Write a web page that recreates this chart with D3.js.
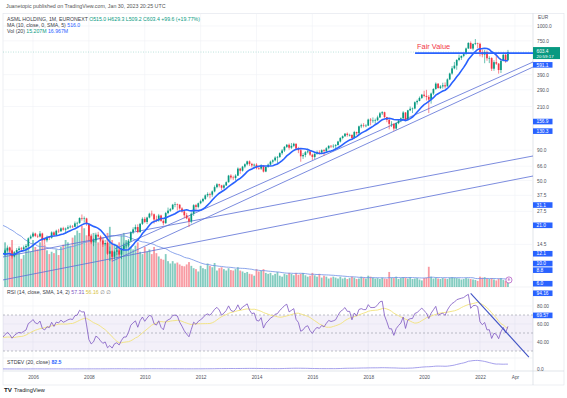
<!DOCTYPE html>
<html><head><meta charset="utf-8">
<script src="https://cdn.jsdelivr.net/npm/d3@7/dist/d3.min.js"></script>
<style>
html,body{margin:0;padding:0;background:#fff;}
svg{display:block;}
text{font-family:"Liberation Sans","DejaVu Sans",Arial,sans-serif;}
</style></head><body>
<svg id="chart" width="567" height="398"></svg>
<script>
// ================= DATA (monthly, EUR) =================
const dataStartYear = 2002;   // closes & volumes start Jan 2002
const candleStartYear = 2005; // opens/highs/lows start Jan 2005

const closes = [
 19.5,19.0,22.0,19.8,15.0,10.5,8.5,7.5,5.8,8.0,10.5,8.0,            // 2002
 6.9,6.5,6.1,7.5,8.3,8.4,10.6,12.3,11.5,13.5,14.2,14.1,             // 2003
 14.6,14.3,14.8,12.2,12.8,14.0,11.6,10.3,10.4,11.1,12.5,11.9,       // 2004
 12.9,13.6,12.9,11.5,12.4,13.0,13.4,13.2,13.7,14.1,16.3,16.9,       // 2005
 17.9,17.1,16.9,17.9,16.1,15.7,16.7,16.5,18.3,17.3,18.9,18.7,       // 2006
 19.8,19.3,19.7,20.2,20.5,20.4,21.8,22.0,24.2,23.9,24.0,21.5,       // 2007
 17.0,15.1,15.7,17.5,16.9,15.6,14.5,14.9,12.1,12.7,11.4,12.6,       // 2008
 12.9,11.9,13.2,14.2,14.2,15.6,18.3,19.4,20.3,18.4,21.6,23.8,       // 2009
 22.4,24.4,26.3,26.0,23.5,23.0,25.4,22.9,21.9,26.6,27.9,28.7,       // 2010
 31.3,31.6,31.3,29.1,27.5,25.5,24.0,22.6,26.3,31.0,30.0,32.2,       // 2011
 33.5,35.0,37.5,38.5,38.0,40.5,44.0,46.5,45.5,43.5,45.5,48.4,       // 2012
 55.0,53.0,52.5,55.0,63.0,60.5,65.5,68.5,72.5,69.0,67.0,68.0,       // 2013
 63.5,63.0,67.0,59.5,65.0,68.0,72.0,74.0,78.0,79.0,85.0,89.5,       // 2014
 96.0,100.0,94.5,98.0,102.0,93.0,90.0,80.0,82.0,86.5,88.0,82.5,     // 2015
 79.0,84.0,87.0,86.0,90.0,88.5,93.5,98.0,97.0,98.0,99.5,106.5,      // 2016
 114,118,124,121,121,114,128,125,143,146,145,145,                   // 2017
 163,160,160,161,170,184,188,171,162,150,150,137,                   // 2018
 152,160,167,187,162,195,201,202,228,234,248,264,                   // 2019
 258,253,240,270,295,327,300,310,317,310,355,398,                   // 2020
 440,464,518,540,560,580,647,720,645,706,716,708,                   // 2021
 601,575,605,535,537,437,496,482,426,509,572,503.8,                 // 2022
 603.4                                                              // 2023
];
const opens = [
 11.9,12.9,13.6,12.9,11.5,12.4,13.0,13.4,13.2,13.7,14.1,16.3,
 16.9,17.9,17.1,16.9,17.9,16.1,15.7,16.7,16.5,18.3,17.3,18.9,
 18.7,19.8,19.3,19.7,20.2,20.5,20.4,21.8,22.0,24.2,23.9,24.0,
 21.5,17.0,15.1,15.7,17.5,16.9,15.6,14.5,14.9,12.1,12.7,11.4,
 12.6,12.9,11.9,13.2,14.2,14.2,15.6,18.3,19.4,20.3,18.4,21.6,
 23.8,22.4,24.4,26.3,26.0,23.5,23.0,25.4,22.9,21.9,26.6,27.9,
 28.7,31.3,31.6,31.3,29.1,27.5,25.5,24.0,22.6,26.3,31.0,30.0,
 32.2,33.5,35.0,37.5,38.5,38.0,40.5,44.0,46.5,45.5,43.5,45.5,
 48.4,55.0,53.0,52.5,55.0,63.0,60.5,65.5,68.5,72.5,69.0,67.0,
 68.0,63.5,63.0,67.0,59.5,65.0,68.0,72.0,74.0,78.0,79.0,85.0,
 89.5,96.0,100.0,94.5,98.0,102.0,93.0,90.0,80.0,82.0,86.5,88.0,
 82.5,79.0,84.0,87.0,86.0,90.0,88.5,93.5,98.0,97.0,98.0,99.5,
 106.5,114,118,124,121,121,114,128,125,143,146,145,
 145,163,160,160,161,170,184,188,171,162,150,150,
 137,152,160,167,187,162,195,201,202,228,234,248,
 264,258,253,240,270,295,327,300,310,317,310,355,
 398,440,464,518,540,560,580,647,720,645,706,716,
 708,601,575,605,535,537,437,496,482,426,509,572,
 515.0
];
const highs = [
 13.4,14.2,13.9,13.1,12.7,13.5,14.0,13.8,14.2,14.6,16.6,17.5,
 18.5,18.2,17.6,18.8,18.2,16.5,17.2,17.0,18.7,18.7,19.3,19.6,
 20.2,20.4,20.1,21.0,21.2,21.1,22.6,22.5,24.5,25.9,24.9,24.3,
 21.8,17.8,16.3,18.2,18.5,17.3,15.8,15.8,15.2,13.9,12.9,12.9,
 13.9,13.3,13.6,15.0,15.3,16.1,18.7,20.2,21.3,21.4,22.0,24.5,
 24.7,24.8,26.8,27.9,26.4,25.3,26.2,25.8,23.5,27.2,29.6,29.4,
 31.8,33.0,32.0,31.6,29.8,27.9,26.7,24.8,27.0,31.6,31.8,32.6,
 34.5,35.8,38.2,39.8,39.5,41.2,45.5,47.5,47.0,46.0,46.5,49.2,
 55.8,56.5,55.0,56.5,64.5,64.0,66.5,69.8,73.5,73.8,70.5,69.5,
 70.0,66.5,68.5,67.5,65.8,69.5,73.5,75.5,80.0,80.5,86.5,92.0,
 97.5,101.5,102.5,103.5,104.0,102.5,96.0,92.0,85.0,88.5,93.0,90.0,
 84.0,85.0,89.5,90.0,91.5,92.0,95.5,99.0,99.5,101.0,101.5,108.0,
 116,120,125.5,127,124,122.5,131,129,145,150.5,152,149,
 166,168,170,166,176,189,192,190,172,165,158,152,
 155,164,170,192,188,197,210,206,232,240,255,268,
 285,290,262,275,299,335,330,318,333,335,362,405,
 460,498,525,575,565,590,658,730,742,714,777,724,
 724,636,628,622,556,546,515,570,488,514,595,590,
 629.3
];
const lows = [
 11.6,12.6,12.5,11.0,11.3,12.2,12.7,12.6,12.8,13.0,13.9,16.0,
 16.6,16.7,16.4,16.6,15.6,14.5,15.1,15.8,16.2,16.9,17.1,18.1,
 18.5,18.9,17.9,19.4,19.8,19.9,20.3,20.0,21.6,23.0,22.1,20.8,
 15.6,14.6,14.0,15.0,16.5,15.3,13.8,14.2,11.8,10.5,10.6,10.9,
 11.8,11.4,10.9,12.8,13.6,13.8,15.1,17.7,18.8,18.0,18.2,21.1,
 21.9,21.5,24.0,25.0,21.7,22.3,22.5,22.5,21.0,21.6,26.0,27.3,
 28.3,29.8,28.0,28.4,26.8,24.1,23.6,20.3,21.8,25.2,27.6,29.2,
 31.6,32.8,34.3,36.2,35.4,36.5,39.8,43.0,43.8,41.5,42.5,45.0,
 48.0,51.0,50.5,50.0,54.5,57.0,59.5,63.5,67.0,66.5,64.5,63.0,
 62.0,61.5,61.5,58.5,58.8,64.0,67.0,69.5,72.5,70.0,77.5,82.5,
 87.0,94.0,91.0,92.0,95.5,91.0,85.0,72.0,76.0,78.5,84.5,80.5,
 74.5,76.0,82.5,83.0,84.5,81.0,86.5,91.5,94.0,93.5,92.0,98.5,
 104.5,111,116.5,117,117.5,110,112.5,121,124,138,140,140.5,
 144,146,153,150,158,168,178,168,155,135,141,131,
 134,149,155,165,159,160,192,185,199,218,232,243,
 251,236,185,222,262,290,298,295,297,298,310,350,
 389,432,428,505,518,546,575,640,642,623,690,652,
 555,545,486,510,487,418,420,470,397,402,503,490,
 509.2
];
const volumes = [ // millions of shares per month
 190,180,200,185,210,230,220,200,210,230,200,180,   // 2002
 170,160,180,150,140,130,150,150,140,150,130,115,   // 2003
 170,150,140,160,120,110,140,120,100,110,105,95,    // 2004
 95,80,85,100,75,70,72,60,68,82,90,75,              // 2005
 100,85,80,95,105,90,78,70,75,72,80,68,             // 2006
 85,90,100,95,88,105,110,120,115,130,125,110,       // 2007
 132,110,115,100,95,98,105,90,115,128,100,92,       // 2008
 90,95,110,115,100,92,85,80,88,95,75,70,            // 2009
 85,75,80,70,85,72,65,60,58,70,55,50,               // 2010
 55,50,52,48,45,44,48,53,45,40,38,33,               // 2011
 45,40,38,50,45,42,51,35,40,42,38,35,               // 2012
 40,36,35,38,42,35,33,30,32,28,27,24,               // 2013
 38,33,35,38,30,28,30,25,28,32,24,22,               // 2014
 28,26,30,28,25,30,26,28,30,25,22,24,               // 2015
 30,25,22,28,20,24,22,18,20,22,20,18,               // 2016
 22,18,20,17,19,22,20,17,18,22,20,18,               // 2017
 24,22,20,18,19,17,20,18,17,32,20,19,               // 2018
 22,17,19,21,20,18,21,17,18,19,16,14,               // 2019
 19,20,43,22,18,20,18,17,19,18,17,20,               // 2020
 21,20,19,18,16,17,19,18,17,16,15,13,               // 2021
 22,20,21,18,17,19,16,14,18,19,15,13,               // 2022
 15.2                                               // 2023
];
// month offsets below are counted from Jan 2005
const timeLabels = ["2006","2008","2010","2012","2014","2016","2018","2020","2022","Apr"];
const timeLabelMonths = [12,36,60,84,108,132,156,180,204,219];
const priceTicks = [1000,750,390,290,210,90,66,50,37.5,27.5,14.5];
const rsiTicks = [80,60,40];
const stdTicks = [0];
const priceMarks = [591.1,156.9,130.3,31.1,21.0,12.1,10.0,8.8,6.0];
const rsiMarks = [94.16,69.57];
const lastPrice = 603.4;
const fairValue = 591.1;
const fairValueFrom = 176.1;
// trend lines: [month0, price0, month1, price1]
const trendLines = [
 [47.2,13.3,226.8,497.7],
 [45.9,10.44,226.8,451.8],
 [-2,11.26,226.8,80.5],
 [-2,7.21,226.8,54.6]
];
const rsiTrend = [200,94.16,225,23.3];
const eventMonth = 216;

// ================= LAYOUT =================
const plotL=3, plotR=533, frameR=564, frameT=13.5, mainB=287, rsiB=358, stdB=371, axisB=385;
const svg = d3.select("#chart");
const off = (candleStartYear - dataStartYear)*12;
const N = closes.length;

const x = d3.scaleLinear().domain([12,204]).range([33,480]);
const y = d3.scaleLog().domain([14.5,1000]).range([244.4,26]);
const yVol = d3.scaleLinear().domain([0,200]).range([mainB, mainB-94]);
const yRsi = d3.scaleLinear().domain([30,70]).range([351,315]);
const yStd = d3.scaleLinear().domain([0,200]).range([369,358]);

// ================= INDICATORS =================
function sma(a,n){return a.map((_,i)=>{if(i<n-1)return null;const s=a.slice(i-n+1,i+1);if(s.some(v=>v==null))return null;return d3.mean(s);});}
const ma10 = sma(closes,10);
const volMa = sma(volumes,20);
const rsi = new Array(N).fill(null);
{let ag=0,al=0;for(let i=1;i<N;i++){const ch=closes[i]-closes[i-1];const g=Math.max(ch,0),l=Math.max(-ch,0);
 if(i<=14){ag+=g/14;al+=l/14;if(i===14)rsi[i]=100-100/(1+ag/al);}else{ag=(ag*13+g)/14;al=(al*13+l)/14;rsi[i]=al===0?100:100-100/(1+ag/al);}}}
const rsiMa = sma(rsi,14);
const stdev = closes.map((_,i)=>{if(i<19)return null;const s=closes.slice(i-19,i+1);const m=d3.mean(s);return Math.sqrt(d3.mean(s.map(v=>(v-m)*(v-m))));});

// ================= DEFS / CLIPS =================
const defs = svg.append("defs");
[["cMain",frameT,mainB],["cRsi",mainB,rsiB],["cStd",rsiB,stdB]].forEach(([id,t,b])=>{
 defs.append("clipPath").attr("id",id).append("rect").attr("x",plotL).attr("y",t).attr("width",plotR-plotL).attr("height",b-t);});

// frame
svg.append("rect").attr("x",plotL).attr("y",frameT).attr("width",frameR-plotL).attr("height",axisB-frameT)
 .attr("fill","none").attr("stroke","#e0e3eb").attr("stroke-width",0.6);
svg.append("line").attr("x1",plotR).attr("x2",plotR).attr("y1",frameT).attr("y2",axisB).attr("stroke","#cfd3dc").attr("stroke-width",0.6);
svg.append("line").attr("x1",plotL).attr("x2",frameR).attr("y1",stdB).attr("y2",stdB).attr("stroke","#cfd3dc").attr("stroke-width",0.6);
[mainB,rsiB].forEach(yy=>svg.append("line").attr("x1",plotL).attr("x2",plotR).attr("y1",yy).attr("y2",yy).attr("stroke","#e9ebf0").attr("stroke-width",0.6));

// grid
const grid = svg.append("g").attr("stroke","#f0f2f6").attr("stroke-width",0.6);
timeLabelMonths.forEach(m=>grid.append("line").attr("x1",x(m)).attr("x2",x(m)).attr("y1",frameT).attr("y2",stdB));
priceTicks.forEach(v=>grid.append("line").attr("x1",plotL).attr("x2",plotR).attr("y1",y(v)).attr("y2",y(v)));
rsiTicks.forEach(v=>grid.append("line").attr("x1",plotL).attr("x2",plotR).attr("y1",yRsi(v)).attr("y2",yRsi(v)));

// ================= MAIN PANE =================
const gMain = svg.append("g").attr("clip-path","url(#cMain)");
const up="#089981", dn="#f23645";
const candles = opens.map((o,j)=>({t:j,o,h:highs[j],l:lows[j],c:closes[j+off],v:volumes[j+off]}));
gMain.append("g").selectAll("rect").data(candles).join("rect")
 .attr("x",d=>x(d.t)-0.9).attr("width",1.8)
 .attr("y",d=>yVol(d.v)).attr("height",d=>mainB-yVol(d.v))
 .attr("fill",d=>d.c>=d.o?up:dn).attr("fill-opacity",0.5);
const lineT = (ys)=>d3.line().defined(d=>d.v!=null).x(d=>x(d.t)).y(d=>ys(d.v));
const series = arr=>arr.map((v,i)=>({t:i-off,v}));
gMain.append("path").datum(series(volMa)).attr("d",lineT(yVol)).attr("fill","none").attr("stroke","#6f8fe6").attr("stroke-width",0.8);
gMain.append("line").attr("x1",plotL).attr("x2",plotR).attr("y1",y(lastPrice)).attr("y2",y(lastPrice))
 .attr("stroke","#089981").attr("stroke-opacity",0.45).attr("stroke-width",0.6).attr("stroke-dasharray","1,1.5");
trendLines.forEach(([m0,p0,m1,p1])=>gMain.append("line").attr("x1",x(m0)).attr("y1",y(p0)).attr("x2",x(m1)).attr("y2",y(p1))
 .attr("stroke","#5b6fd6").attr("stroke-width",0.8));
const gc = gMain.append("g");
gc.selectAll("line").data(candles).join("line")
 .attr("x1",d=>x(d.t)).attr("x2",d=>x(d.t)).attr("y1",d=>y(d.h)).attr("y2",d=>y(d.l))
 .attr("stroke",d=>d.c>=d.o?up:dn).attr("stroke-width",0.6);
gc.selectAll("rect").data(candles).join("rect")
 .attr("x",d=>x(d.t)-0.85).attr("width",1.7)
 .attr("y",d=>Math.min(y(d.o),y(d.c))).attr("height",d=>Math.max(0.6,Math.abs(y(d.o)-y(d.c))))
 .attr("fill",d=>d.c>=d.o?up:dn);
gMain.append("path").datum(series(ma10)).attr("d",lineT(y)).attr("fill","none").attr("stroke","#2962ff").attr("stroke-width",1.6);
gMain.append("line").attr("x1",x(fairValueFrom)).attr("x2",plotR).attr("y1",y(fairValue)).attr("y2",y(fairValue))
 .attr("stroke","#2962ff").attr("stroke-width",1.6);
svg.append("text").attr("x",x(fairValueFrom)+2).attr("y",y(fairValue)-3.8).attr("font-size",7.4).attr("fill","#f23645").text("Fair Value");
svg.append("circle").attr("cx",x(eventMonth)+1).attr("cy",mainB-7).attr("r",3.1).attr("fill","#fff").attr("stroke","#ab47bc").attr("stroke-width",0.7);
svg.append("text").attr("x",x(eventMonth)+1).attr("y",mainB-5.6).attr("text-anchor","middle").attr("font-size",3.8).attr("fill","#ab47bc").text("E");

// ================= RSI PANE =================
const gR = svg.append("g").attr("clip-path","url(#cRsi)");
gR.append("rect").attr("x",plotL).attr("width",plotR-plotL).attr("y",yRsi(70)).attr("height",yRsi(30)-yRsi(70)).attr("fill","#7e57c2").attr("fill-opacity",0.09);
[70,50,30].forEach(v=>gR.append("line").attr("x1",plotL).attr("x2",plotR).attr("y1",yRsi(v)).attr("y2",yRsi(v))
 .attr("stroke","#9598a1").attr("stroke-width",0.6).attr("stroke-dasharray","2,2"));
gR.append("path").datum(series(rsiMa)).attr("d",lineT(yRsi)).attr("fill","none").attr("stroke","#f2e27a").attr("stroke-width",0.9);
gR.append("path").datum(series(rsi)).attr("d",lineT(yRsi)).attr("fill","none").attr("stroke","#7e57c2").attr("stroke-width",0.8);
gR.append("line").attr("x1",x(rsiTrend[0])).attr("y1",yRsi(rsiTrend[1])).attr("x2",x(rsiTrend[2])).attr("y2",yRsi(rsiTrend[3]))
 .attr("stroke","#4154c4").attr("stroke-width",1.1);

// ================= STDEV PANE =================
const gS = svg.append("g").attr("clip-path","url(#cStd)");
gS.append("path").datum(series(stdev)).attr("d",lineT(yStd)).attr("fill","none").attr("stroke","#8e88e6").attr("stroke-width",0.8);

// ================= AXES =================
const fs=4.8, axisCol="#50535e";
function styleAxis(g){g.select(".domain").remove();g.selectAll("line").remove();g.selectAll("text").attr("font-size",fs).attr("fill",axisCol).attr("font-family","Liberation Sans, Arial, sans-serif");}
svg.append("g").attr("transform",`translate(${plotR+4},0)`)
 .call(d3.axisRight(y).tickValues(priceTicks).tickFormat(d3.format(".1f")).tickSize(0).tickPadding(0)).call(styleAxis);
svg.append("g").attr("transform",`translate(${plotR+4},0)`)
 .call(d3.axisRight(yRsi).tickValues(rsiTicks).tickFormat(d3.format(".2f")).tickSize(0).tickPadding(0)).call(styleAxis);
svg.append("g").attr("transform",`translate(${plotR+4},0)`)
 .call(d3.axisRight(yStd).tickValues(stdTicks).tickFormat(d3.format(".1f")).tickSize(0).tickPadding(0)).call(styleAxis);
svg.append("text").attr("x",plotR+5).attr("y",19).attr("font-size",fs).attr("fill",axisCol).text("EUR");
svg.append("g").attr("transform",`translate(0,${stdB+2})`)
 .call(d3.axisBottom(x).tickValues(timeLabelMonths).tickFormat((d,i)=>timeLabels[i]).tickSize(0).tickPadding(3)).call(styleAxis);

const tagW=19.5, tagH=5.6;
const lpY = y(lastPrice);
svg.append("rect").attr("x",plotR).attr("y",lpY-5).attr("width",27).attr("height",12).attr("fill","#089981");
svg.append("text").attr("x",plotR+3.5).attr("y",lpY+0.8).attr("font-size",fs).attr("fill","#fff").text(d3.format(".1f")(lastPrice));
svg.append("text").attr("x",plotR+3.5).attr("y",lpY+5.8).attr("font-size",fs-0.4).attr("fill","#fff").text("20:59:17");
function tags(vals, scale, fmt, minTop, maxBottom){
 let prevB = minTop;
 vals.map(v=>({v,yc:scale(v)})).sort((a,b)=>a.yc-b.yc).forEach(d=>{
  let yc = Math.max(d.yc, prevB + tagH/2);
  yc = Math.min(yc, maxBottom - tagH/2 - 0.5);
  prevB = yc + tagH/2;
  svg.append("rect").attr("x",plotR).attr("y",yc-tagH/2).attr("width",tagW).attr("height",tagH).attr("fill","#2962ff");
  svg.append("text").attr("x",plotR+3.5).attr("y",yc+1.7).attr("font-size",fs).attr("fill","#fff").text(d3.format(fmt)(d.v));
 });
}
tags(priceMarks, y, ".1f", lpY+7+3, mainB);
tags(rsiMarks, yRsi, ".2f", mainB, rsiB);

// ================= TEXTS =================
const t = (xx,yy,size,col)=>svg.append("text").attr("x",xx).attr("y",yy).attr("font-size",size).attr("fill",col);
t(6,7.6,5.3,"#555").text("Juanetopic published on TradingView.com, Jan 30, 2023 20:25 UTC");
const l1=t(7,20.6,5.2,"#3a3d47"); l1.append("tspan").text("ASML HOLDING, 1M, EURONEXT  ");
l1.append("tspan").attr("fill","#089981").text("O515.0 H629.3 L509.2 C603.4 +99.6 (+19.77%)");
const l2=t(7,27,5.2,"#3a3d47"); l2.append("tspan").text("MA (10, close, 0, SMA, 5) "); l2.append("tspan").attr("fill","#2962ff").text("516.0");
const l3=t(7,33.4,5.2,"#3a3d47"); l3.append("tspan").text("Vol (20) "); l3.append("tspan").attr("fill","#089981").text("15.207M ");
l3.append("tspan").attr("fill","#2962ff").text("16.967M");
const r1=t(7,294.2,5.2,"#3a3d47"); r1.append("tspan").text("RSI (14, close, SMA, 14, 2) ");
r1.append("tspan").attr("fill","#7e57c2").text("57.31 "); r1.append("tspan").attr("fill","#d8c33a").text("56.16 ");
r1.append("tspan").attr("fill","#777").text("∅ ∅");
const s1=t(7,364.3,5.2,"#3a3d47"); s1.append("tspan").text("STDEV (20, close) "); s1.append("tspan").attr("fill","#2962ff").attr("font-weight","bold").text("82.5");
svg.append("text").attr("x",4).attr("y",392).attr("font-size",6.2).attr("font-weight","900").attr("fill","#131722").text("TV");
t(14,392,5.6,"#131722").text("TradingView");
</script></body></html>
